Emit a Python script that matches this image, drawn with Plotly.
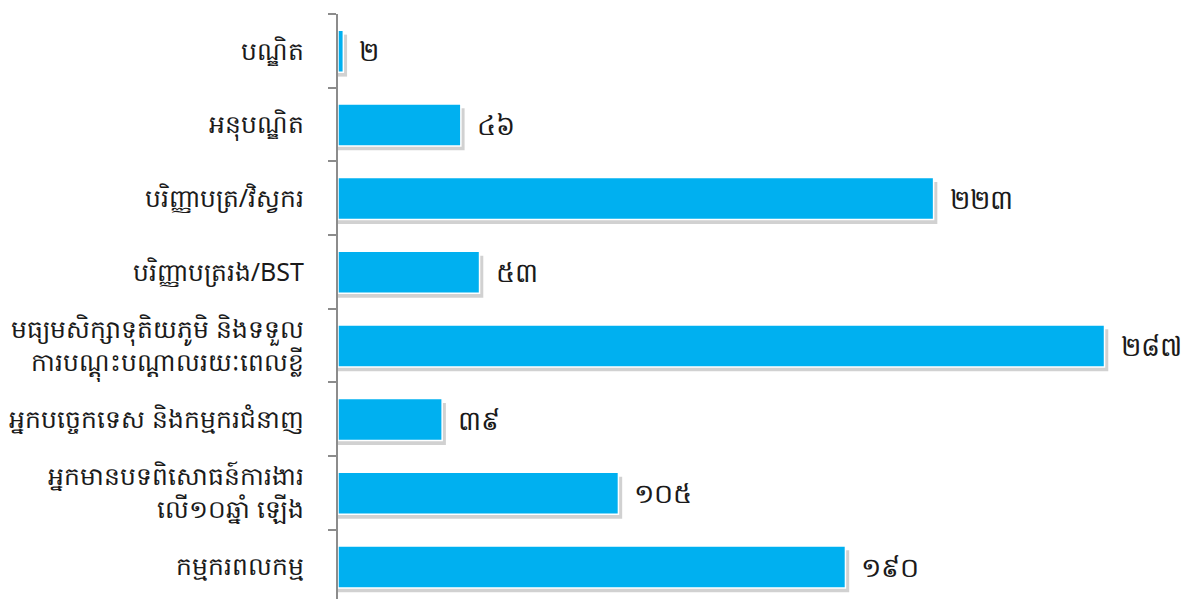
import plotly.graph_objects as go

categories = [
    "បណ្ឌិត",
    "អនុបណ្ឌិត",
    "បរិញ្ញាបត្រ/វិស្វករ",
    "បរិញ្ញាបត្ររង/BST",
    "មធ្យមសិក្សាទុតិយភូមិ និងទទួល<br>ការបណ្តុះបណ្តាលរយៈពេលខ្លី",
    "អ្នកបច្ចេកទេស និងកម្មករជំនាញ",
    "អ្នកមានបទពិសោធន៍ការងារ<br>លើ១០ឆ្នាំ ឡើង",
    "កម្មករពលកម្ម",
]
values = [2, 46, 223, 53, 287, 39, 105, 190]

khmer_digits = "០១២៣៤៥៦៧៨៩"


def to_khmer(n):
    return "".join(khmer_digits[int(d)] for d in str(n))


labels = [to_khmer(v) for v in values]

fig = go.Figure()

# soft drop shadow under each bar
fig.add_trace(go.Bar(
    y=categories, x=[v + 1.4 for v in values], orientation="h",
    marker=dict(color="rgba(0,0,0,0.18)", line=dict(width=0)),
    width=0.57, offset=-0.22, hoverinfo="skip", showlegend=False,
))

fig.add_trace(go.Bar(
    y=categories, x=values, orientation="h",
    marker=dict(color="#00B0F0", line=dict(color="white", width=1.5)),
    width=0.57, offset=-0.28,
    showlegend=False,
))

# value labels in Khmer numerals
for cat, v, lab in zip(categories, values, labels):
    fig.add_annotation(
        x=v, y=cat, text=lab, showarrow=False,
        xanchor="left", yanchor="middle", xshift=14,
        font=dict(size=27, color="#1a1a1a"),
    )

fig.update_layout(
    width=1182, height=591,
    margin=dict(l=330, r=0, t=6, b=0),
    plot_bgcolor="white", paper_bgcolor="white",
    barmode="overlay",
    font=dict(family="Noto Sans, sans-serif", size=25, color="#1a1a1a"),
)
fig.update_xaxes(range=[0, 319], visible=False)
fig.update_yaxes(
    categoryorder="array", categoryarray=categories,
    range=[7.44, -0.5],
    showline=True, linecolor="#8c8c8c", linewidth=2,
    ticks="outside", tickson="boundaries", ticklen=8, tickcolor="#8c8c8c", tickwidth=2,
    showgrid=False, zeroline=False, automargin=False,
    ticklabelstandoff=27,
    tickfont=dict(size=25, color="#1a1a1a"),
)

fig.write_html("out.html")
